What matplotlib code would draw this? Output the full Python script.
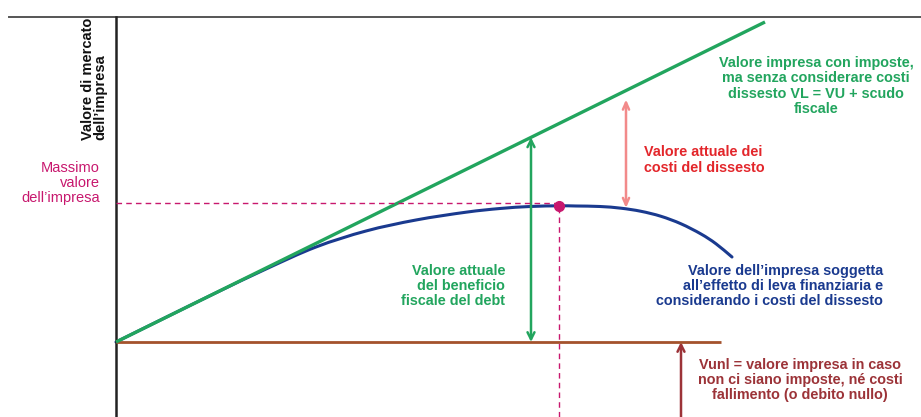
import numpy as np
import matplotlib
matplotlib.use("Agg")
import matplotlib.pyplot as plt
from matplotlib.path import Path
from matplotlib.patches import PathPatch, FancyArrowPatch

plt.rcParams['font.family'] = ['Liberation Sans', 'DejaVu Sans']

# Debt level (horizontal) and firm values (vertical), in arbitrary units
debt_levered = [0.0, 64.9]           # VL = VU + tax shield (straight line)
value_levered = [0.0, 32.0]
vunl_debt = [0.0, 60.5]              # unlevered firm value (flat)
vunl_value = [0.0, 0.0]
debt_curve = [0.0, 5.0, 10.0, 15.0, 20.0, 25.0, 30.0, 35.0, 38.4, 41.4, 44.3,
              46.0, 48.4, 50.5, 52.5, 54.5, 56.5, 58.5, 60.0, 61.6]
value_curve = [0.0, 2.47, 4.92, 7.3, 9.5, 11.1, 12.2, 12.98, 13.35, 13.55, 13.62,
               13.6, 13.55, 13.38, 13.07, 12.57, 11.82, 10.8, 9.82, 8.5]
shield_arrow_debt = 41.5
cost_arrow_debt = 51.0
vunl_arrow_debt = 56.5

GREEN = "#22a55e"
BLUE = "#1a3a8f"
BROWN = "#a4522c"
MAROON = "#9c3338"
MAGENTA = "#c8186e"
PINK = "#f28a8a"
RED = "#e3262b"

X0, X1 = -11.6, 80.5
Y0, Y1 = -7.5, 34.2
FS = 10.4
LS = 1.1

fig = plt.figure(figsize=(9.21, 4.17), dpi=100)
ax = fig.add_axes([0, 0, 1, 1])
ax.set_xlim(X0, X1)
ax.set_ylim(Y0, Y1)
ax.axis("off")

# frame: top rule and vertical axis
ax.plot([-10.7, X1], [32.5, 32.5], color="#555555", lw=1.4, clip_on=False)
ax.plot([0, 0], [Y0, 32.5], color="#222222", lw=1.8)

# unlevered value line
ax.plot(vunl_debt, vunl_value, color=BROWN, lw=2.0, solid_capstyle="butt")

# levered value with tax shield only
ax.plot(debt_levered, value_levered, color=GREEN, lw=2.4, solid_capstyle="butt")

# levered value with distress costs: Catmull-Rom path through the points
pts = np.column_stack([debt_curve, value_curve])
ext = np.vstack([pts[0] - (pts[1] - pts[0]), pts, pts[-1] + (pts[-1] - pts[-2])])
verts = [pts[0]]
codes = [Path.MOVETO]
for i in range(1, len(ext) - 2):
    p0, p1, p2, p3 = ext[i - 1], ext[i], ext[i + 1], ext[i + 2]
    verts += [p1 + (p2 - p0) / 6, p2 - (p3 - p1) / 6, p2]
    codes += [Path.CURVE4] * 3
ax.add_patch(PathPatch(Path(verts, codes), facecolor="none", edgecolor=BLUE,
                       lw=2.2, capstyle="round"))

# maximum firm value
imax = int(np.argmax(value_curve))
d_star, v_star = debt_curve[imax], value_curve[imax]
ax.plot([0, d_star], [v_star + 0.25, v_star + 0.25], color=MAGENTA, lw=1.0,
        dashes=(4, 3))
ax.plot([d_star, d_star], [Y0, v_star], color=MAGENTA, lw=1.0, dashes=(4, 3))
ax.plot([d_star], [v_star], "o", color=MAGENTA, ms=7, zorder=5)

slope = value_levered[1] / debt_levered[1]


def arrow(x, y_from, y_to, color, style):
    ax.add_patch(FancyArrowPatch((x, y_from), (x, y_to), arrowstyle=style,
                                 color=color, lw=1.8, mutation_scale=10,
                                 shrinkA=0, shrinkB=0))


# present value of the tax shield
arrow(shield_arrow_debt, 0.0, slope * shield_arrow_debt, GREEN,
      "<->,head_length=0.5,head_width=0.25")
# present value of distress costs
arrow(cost_arrow_debt, np.interp(cost_arrow_debt, debt_curve, value_curve) + 0.1,
      slope * cost_arrow_debt - 0.9, PINK, "<->,head_length=0.5,head_width=0.22")
# unlevered value
arrow(vunl_arrow_debt, Y0, 0.0, MAROON, "->,head_length=0.5,head_width=0.25")

# labels
ax.text(-2.2, 26.3, "Valore di mercato\ndell\u2019impresa", rotation=90,
        ha="center", va="center", multialignment="left", fontsize=10.5,
        fontweight="bold", color="#111111", linespacing=0.85)
ax.text(-1.6, 15.9, "Massimo\nvalore\ndell\u2019impresa", ha="right",
        va="center", fontsize=10.5, color=MAGENTA, linespacing=1.05)
ax.text(70.0, 25.6, "Valore impresa con imposte,\nma senza considerare costi\n"
        "dissesto VL = VU + scudo\nfiscale", ha="center", va="center",
        fontsize=FS, fontweight="bold", color=GREEN, linespacing=LS)
ax.text(52.8, 18.2, "Valore attuale dei\ncosti del dissesto", ha="left",
        va="center", fontsize=FS, fontweight="bold", color=RED,
        linespacing=LS)
ax.text(38.9, 5.6, "Valore attuale\ndel beneficio\nfiscale del debt",
        ha="right", va="center", fontsize=FS, fontweight="bold", color=GREEN,
        linespacing=LS)
ax.text(76.7, 5.6, "Valore dell\u2019impresa soggetta\nall\u2019effetto di leva "
        "finanziaria e\nconsiderando i costi del dissesto", ha="right",
        va="center", fontsize=FS, fontweight="bold", color=BLUE,
        linespacing=LS)
ax.text(68.4, -3.8, "Vunl = valore impresa in caso\nnon ci siano imposte, n\u00e9 costi\n"
        "fallimento (o debito nullo)", ha="center", va="center", fontsize=FS,
        fontweight="bold", color=MAROON, linespacing=LS)

fig.savefig("out.png", dpi=100, facecolor="white")
